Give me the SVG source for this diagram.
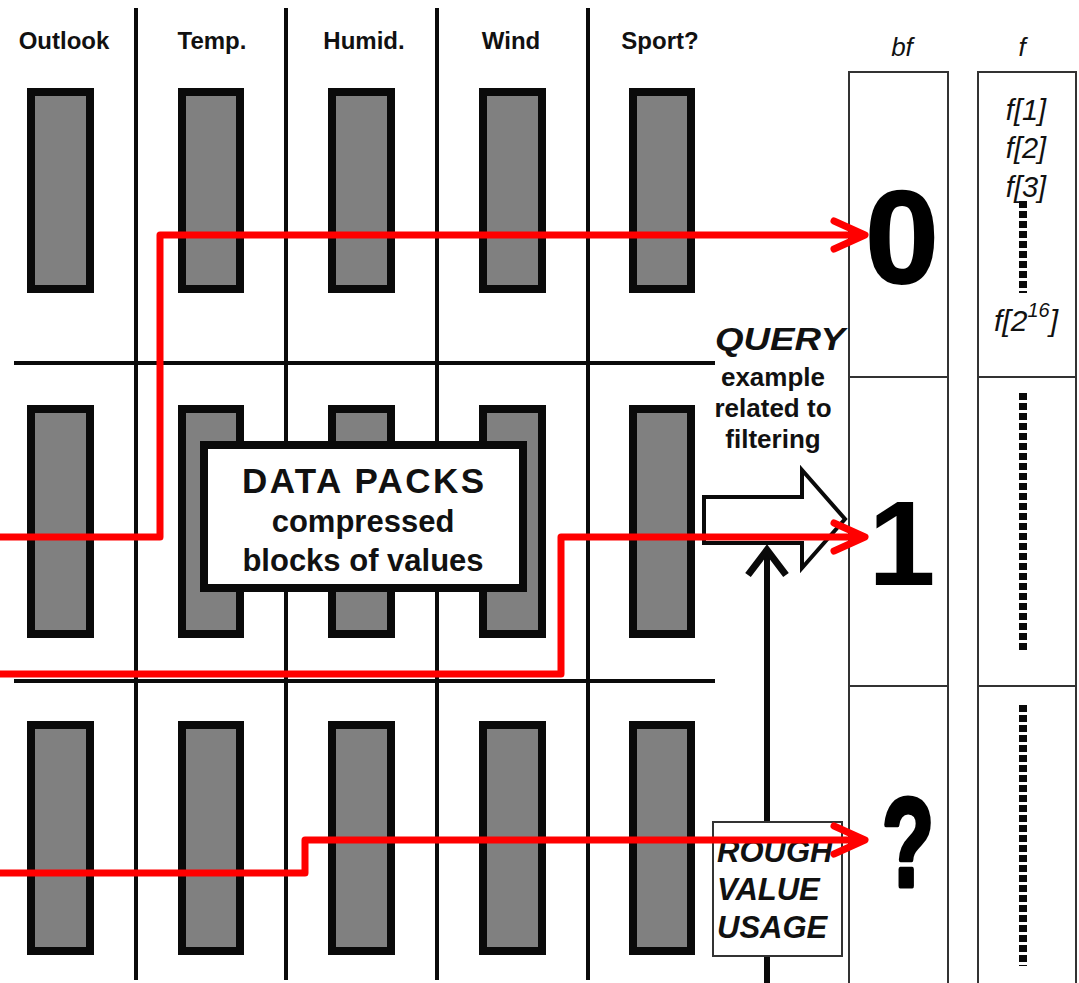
<svg xmlns="http://www.w3.org/2000/svg" width="1079" height="983" viewBox="0 0 1079 983">
  <style>
    .grid { stroke: #0a0a0a; stroke-width: 4; fill: none; }
    .pack { fill: #808080; stroke: #0a0a0a; stroke-width: 8; }
    .hdr { font-family: "Liberation Sans", Arial, sans-serif; font-weight: bold; font-size: 24px; fill: #111; text-anchor: middle; }
    .lbl { font-family: "Liberation Sans", Arial, sans-serif; font-weight: bold; fill: #111; text-anchor: middle; }
    .ital { font-family: "Liberation Sans", Arial, sans-serif; font-style: italic; fill: #111; }
    .col { fill: #fff; stroke: #333; stroke-width: 2; }
    .dots { stroke: #0a0a0a; stroke-width: 8; stroke-dasharray: 7 3; fill: none; }
    .red { stroke: #ff0000; stroke-width: 7; fill: none; stroke-linejoin: round; marker-end: url(#redHead); }
    .big { font-family: "Liberation Sans", Arial, sans-serif; font-weight: bold; fill: #000; }
  </style>
  <defs>
    <marker id="redHead" markerUnits="userSpaceOnUse" viewBox="-40 -22 46 44" refX="0" refY="0" markerWidth="46" markerHeight="44" orient="auto" overflow="visible">
      <path d="M-31,-14 L0,0 L-31,14" fill="none" stroke="#ff0000" stroke-width="7" stroke-linecap="round" stroke-linejoin="round"/>
    </marker>
    <marker id="blackHead" markerUnits="userSpaceOnUse" viewBox="-34 -24 40 48" refX="0" refY="0" markerWidth="40" markerHeight="48" orient="auto" overflow="visible">
      <path d="M-25,-19 L0,0 L-25,19" fill="none" stroke="#0a0a0a" stroke-width="7" stroke-linejoin="miter"/>
    </marker>
  </defs>

  <rect width="1079" height="983" fill="#fff"/>

  <!-- table grid -->
  <g id="grid" class="grid">
    <line x1="136" y1="8" x2="136" y2="980"/>
    <line x1="286" y1="8" x2="286" y2="980"/>
    <line x1="437" y1="8" x2="437" y2="980"/>
    <line x1="588" y1="8" x2="588" y2="980"/>
    <line x1="14" y1="363" x2="715" y2="363"/>
    <line x1="14" y1="681" x2="715" y2="681"/>
  </g>

  <!-- attribute headers -->
  <g id="headers">
    <text class="hdr" x="64" y="49">Outlook</text>
    <text class="hdr" x="212" y="49">Temp.</text>
    <text class="hdr" x="364" y="49">Humid.</text>
    <text class="hdr" x="511" y="49">Wind</text>
    <text class="hdr" x="660" y="49">Sport?</text>
  </g>

  <!-- data pack blocks: 5 columns x 3 row groups -->
  <g id="packs" class="pack">
    <rect x="31" y="92" width="59" height="197"/>
    <rect x="182" y="92" width="58" height="197"/>
    <rect x="332" y="92" width="59" height="197"/>
    <rect x="483" y="92" width="59" height="197"/>
    <rect x="633" y="92" width="58" height="197"/>

    <rect x="31" y="409" width="59" height="225"/>
    <rect x="182" y="409" width="58" height="225"/>
    <rect x="332" y="409" width="59" height="225"/>
    <rect x="483" y="409" width="59" height="225"/>
    <rect x="633" y="409" width="58" height="225"/>

    <rect x="31" y="725" width="59" height="226"/>
    <rect x="182" y="725" width="58" height="226"/>
    <rect x="332" y="725" width="59" height="226"/>
    <rect x="483" y="725" width="59" height="226"/>
    <rect x="633" y="725" width="58" height="226"/>
  </g>

  <!-- DATA PACKS callout -->
  <g id="data-packs-label">
    <rect x="204" y="445" width="319" height="143" fill="#fff" stroke="#0a0a0a" stroke-width="8"/>
    <text class="lbl" x="363" y="493" font-size="35" textLength="242" lengthAdjust="spacing">DATA PACKS</text>
    <text class="lbl" x="363" y="532" font-size="31">compressed</text>
    <text class="lbl" x="363" y="571" font-size="31">blocks of values</text>
  </g>

  <!-- bf column -->
  <g id="bf-column">
    <text class="ital" x="902" y="56" font-size="26" text-anchor="middle">bf</text>
    <rect class="col" x="849" y="72" width="99" height="930"/>
    <line x1="849" y1="377" x2="948" y2="377" stroke="#333" stroke-width="2"/>
    <line x1="849" y1="686" x2="948" y2="686" stroke="#333" stroke-width="2"/>
  </g>

  <!-- f column -->
  <g id="f-column">
    <text class="ital" x="1022" y="56" font-size="26" text-anchor="middle">f</text>
    <rect class="col" x="978" y="72" width="98" height="930"/>
    <line x1="978" y1="377" x2="1076" y2="377" stroke="#333" stroke-width="2"/>
    <line x1="978" y1="686" x2="1076" y2="686" stroke="#333" stroke-width="2"/>
    <text class="ital" x="1026" y="120" font-size="29" text-anchor="middle">f[1]</text>
    <text class="ital" x="1026" y="158" font-size="29" text-anchor="middle">f[2]</text>
    <text class="ital" x="1026" y="197" font-size="29" text-anchor="middle">f[3]</text>
    <line class="dots" x1="1023" y1="201" x2="1023" y2="293"/>
    <text class="ital" x="1026" y="331" font-size="30" text-anchor="middle">f[2<tspan dy="-14" font-size="20">16</tspan><tspan dy="14">]</tspan></text>
    <line class="dots" x1="1023" y1="393" x2="1023" y2="652"/>
    <line class="dots" x1="1023" y1="705" x2="1023" y2="966"/>
  </g>

  <!-- query annotation -->
  <g id="query">
    <text class="ital" x="780" y="350" font-size="31" font-weight="bold" text-anchor="middle" textLength="130" lengthAdjust="spacingAndGlyphs">QUERY</text>
    <text class="lbl" x="773" y="386" font-size="26">example</text>
    <text class="lbl" x="773" y="417" font-size="26">related to</text>
    <text class="lbl" x="773" y="448" font-size="26">filtering</text>
    <path d="M704,497 H802 V470 L845,519 L802,568 V543 H704 Z" fill="#fff" stroke="#0a0a0a" stroke-width="4" stroke-linejoin="miter"/>
  </g>

  <!-- rough value usage feeding the query -->
  <g id="connectors">
    <path d="M767,990 V550" stroke="#0a0a0a" stroke-width="6" fill="none" marker-end="url(#blackHead)"/>
  </g>

  <g id="rough-value-usage">
    <rect x="713" y="822" width="129" height="134" fill="#fff" stroke="#333" stroke-width="2"/>
    <text class="ital" x="717" y="862" font-size="31" font-weight="bold">ROUGH</text>
    <text class="ital" x="717" y="900" font-size="31" font-weight="bold">VALUE</text>
    <text class="ital" x="717" y="938" font-size="31" font-weight="bold">USAGE</text>
  </g>

  <!-- filter results per row group -->
  <g id="results">
    <text class="big" x="902" y="283" font-size="132" text-anchor="middle" stroke="#000" stroke-width="2">0</text>
    <text class="big" x="902" y="585" font-size="121" text-anchor="middle" font-family="DejaVu Sans, sans-serif">1</text>
    <text class="big" x="882" y="886" font-size="126" textLength="52" lengthAdjust="spacingAndGlyphs" stroke="#000" stroke-width="5" stroke-linejoin="round">?</text>
  </g>

  <!-- row-group routes to bf entries -->
  <g id="routes">
    <path class="red" d="M0,537 H160 V235 H865"/>
    <path class="red" d="M0,674 H561 V537 H865"/>
    <path class="red" d="M0,873 H305 V840 H865"/>
  </g>
</svg>
